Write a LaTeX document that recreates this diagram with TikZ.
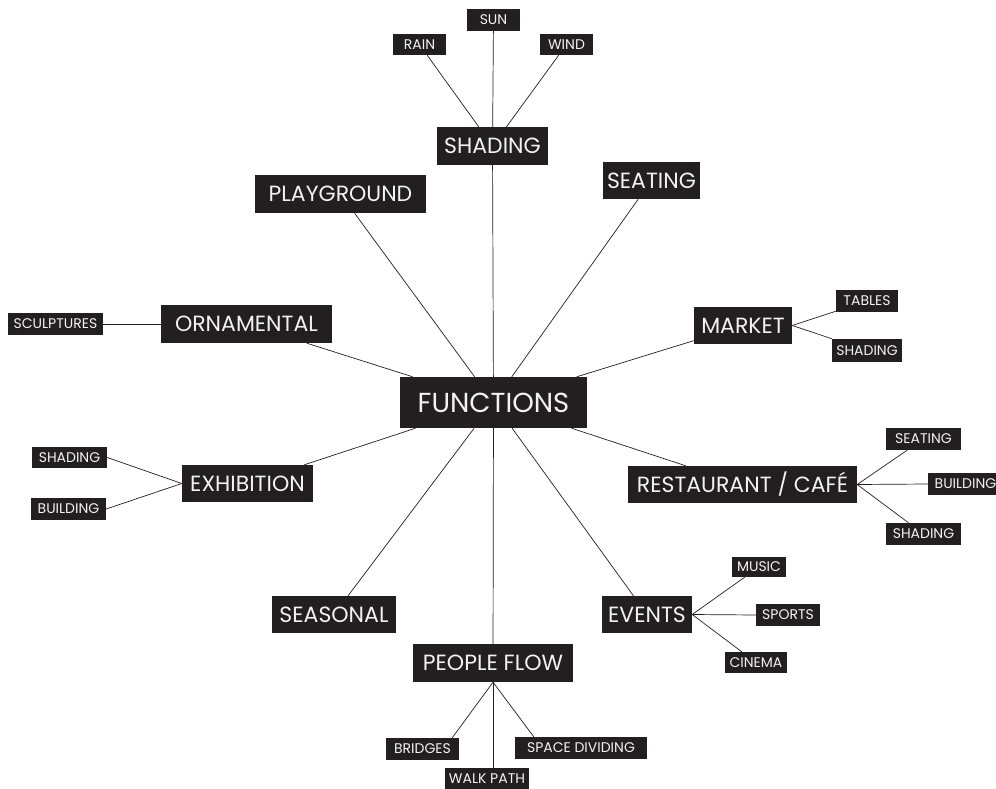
\documentclass[tikz,border=0pt]{standalone}
\usepackage{fontspec}
\setmainfont{Poppins}
\definecolor{boxfill}{HTML}{231F20}
\definecolor{boxtext}{HTML}{F2F2F2}
\definecolor{linec}{HTML}{231F20}
\tikzset{
  boxbase/.style={fill=boxfill, text=boxtext, inner sep=0pt, anchor=center},
  hubbox/.style={boxbase, font=\fontsize{27.5}{27.5}\selectfont},
  mainbox/.style={boxbase, font=\fontsize{22}{22}\selectfont},
  subbox/.style={boxbase, font=\fontsize{14}{14}\selectfont},
  conn/.style={draw=linec, line width=0.7pt},
}
\newcommand{\bx}[5]{\node[#1, minimum width=#3pt, minimum height=#4pt] (#2) at #5}
\begin{document}
\begin{tikzpicture}[x=1pt,y=-1pt]
\useasboundingbox[fill=white] (0,0) rectangle (996,789);
% hub
\bx{hubbox}{fun}{187}{51}{(493.5,402.5)} {FUNCTIONS};
% main nodes
\bx{mainbox}{shad}{111}{38}{(492.5,146)} {SHADING};
\bx{mainbox}{play}{171}{38}{(340.5,194)} {PLAYGROUND};
\bx{mainbox}{seat}{97}{37}{(651.5,180.5)} {SEATING};
\bx{mainbox}{orn}{171}{38}{(246.5,324)} {ORNAMENTAL};
\bx{mainbox}{mark}{98}{37}{(743,325.5)} {MARKET};
\bx{mainbox}{rest}{229}{37}{(742.5,484.5)} {RESTAURANT / CAFÉ};
\bx{mainbox}{exh}{131}{37}{(247.5,483.5)} {EXHIBITION};
\bx{mainbox}{seas}{124}{37}{(334,614.5)} {SEASONAL};
\bx{mainbox}{ev}{90}{37}{(647,614.5)} {EVENTS};
\bx{mainbox}{pf}{160}{38}{(493,663)} {PEOPLE FLOW};
% sub nodes
\bx{subbox}{sun}{53}{22}{(493.5,20)} {SUN};
\bx{subbox}{rain}{53}{21}{(419.5,44.5)} {RAIN};
\bx{subbox}{wind}{53}{21}{(566.5,44.5)} {WIND};
\bx{subbox}{sculp}{95}{22}{(55.5,324)} {SCULPTURES};
\bx{subbox}{tab}{62}{22}{(867,301)} {TABLES};
\bx{subbox}{mshad}{70}{23}{(867,350.5)} {SHADING};
\bx{subbox}{rseat}{75}{22}{(923.5,439)} {SEATING};
\bx{subbox}{rbuild}{75}{22}{(965.5,484)} {BUILDING};
\bx{subbox}{rshad}{75}{22}{(923.5,534)} {SHADING};
\bx{subbox}{eshad}{75}{21}{(69.5,457.5)} {SHADING};
\bx{subbox}{ebuild}{75}{22}{(68.5,509)} {BUILDING};
\bx{subbox}{music}{54}{20}{(759,567)} {MUSIC};
\bx{subbox}{sport}{64}{22}{(788,615)} {SPORTS};
\bx{subbox}{cine}{62}{21}{(756,662.5)} {CINEMA};
\bx{subbox}{bridge}{73}{22}{(422.5,749)} {BRIDGES};
\bx{subbox}{space}{132}{22}{(581,748)} {SPACE DIVIDING};
\bx{subbox}{walk}{84}{22}{(487,779)} {WALK PATH};
% connectors from hub
\foreach \n in {shad,play,seat,orn,mark,rest,exh,seas,ev,pf}
  \draw[conn] (fun) -- (\n);
% shading children
\draw[conn] (sun) -- (shad);
\draw[conn] (rain) -- (shad);
\draw[conn] (wind) -- (shad);
% ornamental
\draw[conn] (orn.west) -- (sculp.east);
% market
\draw[conn] (mark.east) -- (tab);
\draw[conn] (mark.east) -- (mshad);
% restaurant
\draw[conn] (rest.east) -- (rseat);
\draw[conn] (rest.east) -- (rbuild.west);
\draw[conn] (rest.east) -- (rshad);
% exhibition
\draw[conn] (exh.west) -- (eshad.east);
\draw[conn] (exh.west) -- (ebuild.east);
% events
\draw[conn] (ev.east) -- (music);
\draw[conn] (ev.east) -- (sport.west);
\draw[conn] (ev.east) -- (cine);
% people flow
\draw[conn] (pf.south) -- ([xshift=-7pt]bridge.north east);
\draw[conn] (pf.south) -- (walk.north -| pf.south);
\draw[conn] (pf.south) -- ([xshift=19pt]space.north west);
\end{tikzpicture}
\end{document}
